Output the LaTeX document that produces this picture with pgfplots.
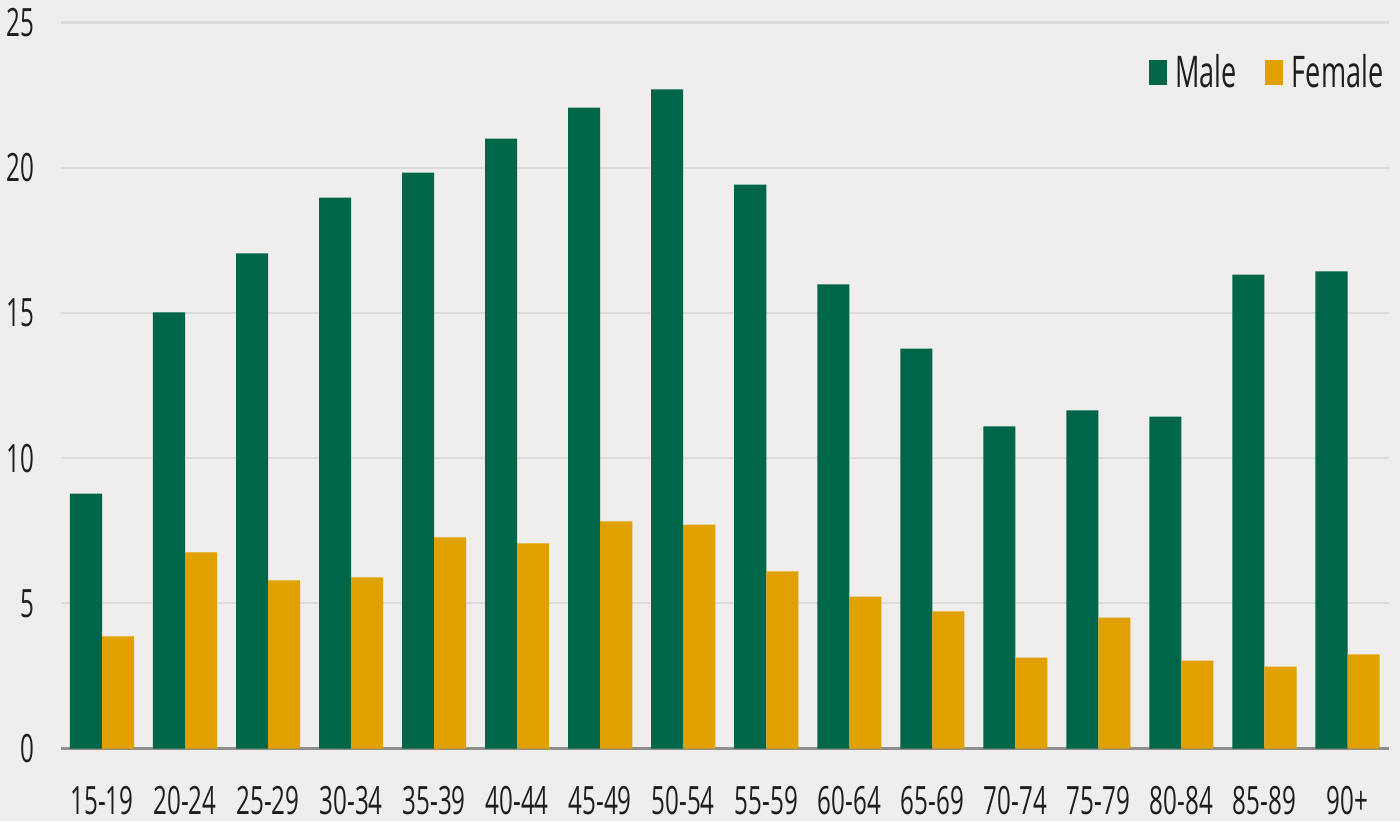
\documentclass[border=0pt]{standalone}
\usepackage{fontspec}
\setmainfont{Open Sans}[FakeStretch=0.62]
\usepackage{pgfplots}
\pgfplotsset{compat=1.18}
\usepackage{pgfplotstable}

\definecolor{bgc}{HTML}{EFEEEC}
\definecolor{gridc}{HTML}{DCDBD9}
\definecolor{axisc}{HTML}{8E8E8C}
\definecolor{malec}{HTML}{00664A}
\definecolor{femalec}{HTML}{E0A000}
\definecolor{txtc}{HTML}{1E1E1E}

% age group index, male rate, female rate
\pgfplotstableread{
idx male female
0  8.78  3.86
1  15.02 6.75
2  17.05 5.79
3  18.97 5.89
4  19.83 7.27
5  21.00 7.06
6  22.07 7.82
7  22.70 7.71
8  19.42 6.10
9  15.98 5.23
10 13.77 4.72
11 11.09 3.13
12 11.64 4.51
13 11.43 3.03
14 16.32 2.82
15 16.43 3.24
}\ratedata

\begin{document}
\begin{tikzpicture}
% page background
\fill[bgc] (-30.25pt,-36.25pt) rectangle (669.75pt,374.25pt);
\begin{axis}[
  at={(0pt,0pt)}, anchor=south west,
  scale only axis,
  width=664.25pt, height=363pt,
  ybar=0pt, bar width=0.386,
  xmin=-0.5, xmax=15.5,
  ymin=0, ymax=25,
  ytick={0,5,...,25},
  xtick={0,...,15},
  xticklabels={15-19,20-24,25-29,30-34,35-39,40-44,45-49,50-54,55-59,60-64,65-69,70-74,75-79,80-84,85-89,90+},
  /pgf/number format/assume math mode=true,
  major tick length=0pt,
  tick style={draw=none},
  axis x line*=bottom, axis y line*=left,
  x axis line style={-, draw=axisc, line width=1.5pt},
  y axis line style={draw=none},
  ymajorgrids,
  grid style={draw=gridc, line width=1.1pt},
  ticklabel style={font=\fontsize{19.5}{22}\selectfont, text=txtc},
  xticklabel style={anchor=north, inner sep=0pt, yshift=-18.5pt},
  yticklabel style={anchor=east, inner sep=0pt, xshift=-13pt},
  legend columns=2,
  legend style={at={(rel axis cs:1.002,0.931)}, anchor=east, draw=none, fill=none,
    font=\fontsize{21.8}{24}\selectfont, text=txtc,
    /tikz/every even column/.append style={column sep=13pt},
    nodes={inner sep=1pt}},
  legend image code/.code={\fill[#1] (0pt,-6pt) rectangle (9pt,6.5pt);\path (12.5pt,0pt);},
]
\addplot[fill=malec, draw=none] table[x=idx, y=male] {\ratedata};
\addplot[fill=femalec, draw=none] table[x=idx, y=female] {\ratedata};
\legend{Male, Female}
\end{axis}
\end{tikzpicture}
\end{document}
